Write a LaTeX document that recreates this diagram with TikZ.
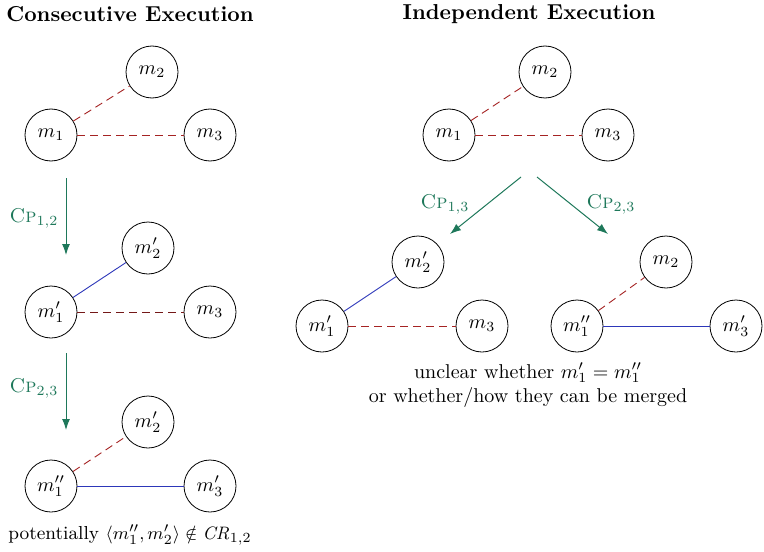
\documentclass[tikz,border=0pt]{standalone}
\usepackage{amsmath}
\usepackage{amssymb}
\usetikzlibrary{positioning,arrows.meta}

\definecolor{cpgreen}{RGB}{30,120,90}
\definecolor{conflred}{RGB}{165,35,35}
\definecolor{mergeblue}{RGB}{45,55,185}

\begin{document}
\begin{tikzpicture}[x=0.5pt, y=-0.5pt,
  module/.style={circle, draw, minimum size=26pt, inner sep=0pt},
  conflict/.style={conflred, line width=0.45pt, dash pattern=on 4pt off 2.5pt},
  merged/.style={mergeblue, line width=0.45pt},
  cp/.style={-{Latex[length=5.5pt,width=4pt]}, cpgreen, line width=0.5pt},
  cplabel/.style={text=cpgreen},
  heading/.style={font=\bfseries\fontsize{10.8}{13}\selectfont}]
\useasboundingbox (0,0) rectangle (764,551);

% Consecutive Execution
\node[heading] (conshead) at (130,14) {Consecutive Execution};

% step 0
\node[module] (cm2) at (152,72) {$m_2$};
\node[module] (cm1) at (51,135) {$m_1$};
\node[module] (cm3) at (210,135) {$m_3$};
\draw[conflict] (cm1) -- (cm2);
\draw[conflict] (cm1) -- (cm3);

% first merge
\coordinate (ca1s) at (66,178);
\coordinate (ca1e) at (66,255);
\draw[cp] (ca1s) -- (ca1e);
\node[cplabel] (cp12) at (34,218) {\textsc{Cp}$_{1,2}$};

% step 1
\node[module] (cm2a) at (148,248) {$m_2'$};
\node[module] (cm1a) at (51,312) {$m_1'$};
\node[module] (cm3a) at (210,312) {$m_3$};
\draw[merged] (cm1a) -- (cm2a);
\draw[conflict, conflred!70!black] (cm1a) -- (cm3a);

% second merge
\coordinate (ca2s) at (66,353);
\coordinate (ca2e) at (66,430);
\draw[cp] (ca2s) -- (ca2e);
\node[cplabel] (cp23) at (34,388) {\textsc{Cp}$_{2,3}$};

% step 2
\node[module] (cm2b) at (148,422) {$m_2'$};
\node[module] (cm1b) at (51,486) {$m_1''$};
\node[module] (cm3b) at (210,486) {$m_3'$};
\draw[conflict] (cm1b) -- (cm2b);
\draw[merged] (cm1b) -- (cm3b);
\node[font=\fontsize{9.4}{11}\selectfont, inner sep=1pt] (consnote) at (130,535) {potentially $\langle m_1'', m_2'\rangle \notin \mathit{CR}_{1,2}$};

% Independent Execution
\node[heading] (indhead) at (529,14) {Independent Execution};

\node[module] (im2) at (545,72) {$m_2$};
\node[module] (im1) at (449,135) {$m_1$};
\node[module] (im3) at (608,135) {$m_3$};
\draw[conflict] (im1) -- (im2);
\draw[conflict] (im1) -- (im3);

% both merges from the same state
\coordinate (ial) at (521,177);
\coordinate (iale) at (450,234);
\coordinate (iar) at (537,177);
\coordinate (iare) at (608,234);
\draw[cp] (ial) -- (iale);
\draw[cp] (iar) -- (iare);
\node[cplabel] (cp13) at (445,204) {\textsc{Cp}$_{1,3}$};
\node[cplabel] (cp23r) at (611,204) {\textsc{Cp}$_{2,3}$};

% left result
\node[module] (il2) at (418,262) {$m_2'$};
\node[module] (il1) at (322,326) {$m_1'$};
\node[module] (il3) at (482,326) {$m_3$};
\draw[merged] (il1) -- (il2);
\draw[conflict] (il1) -- (il3);

% right result
\node[module] (ir2) at (666,262) {$m_2$};
\node[module] (ir1) at (577,326) {$m_1''$};
\node[module] (ir3) at (736,326) {$m_3'$};
\draw[conflict] (ir1) -- (ir2);
\draw[merged] (ir1) -- (ir3);

\node[align=center, inner sep=0pt] (indnote) at (528,385) {unclear whether $m_1' = m_1''$\\or whether/how they can be merged};
\end{tikzpicture}
\end{document}
